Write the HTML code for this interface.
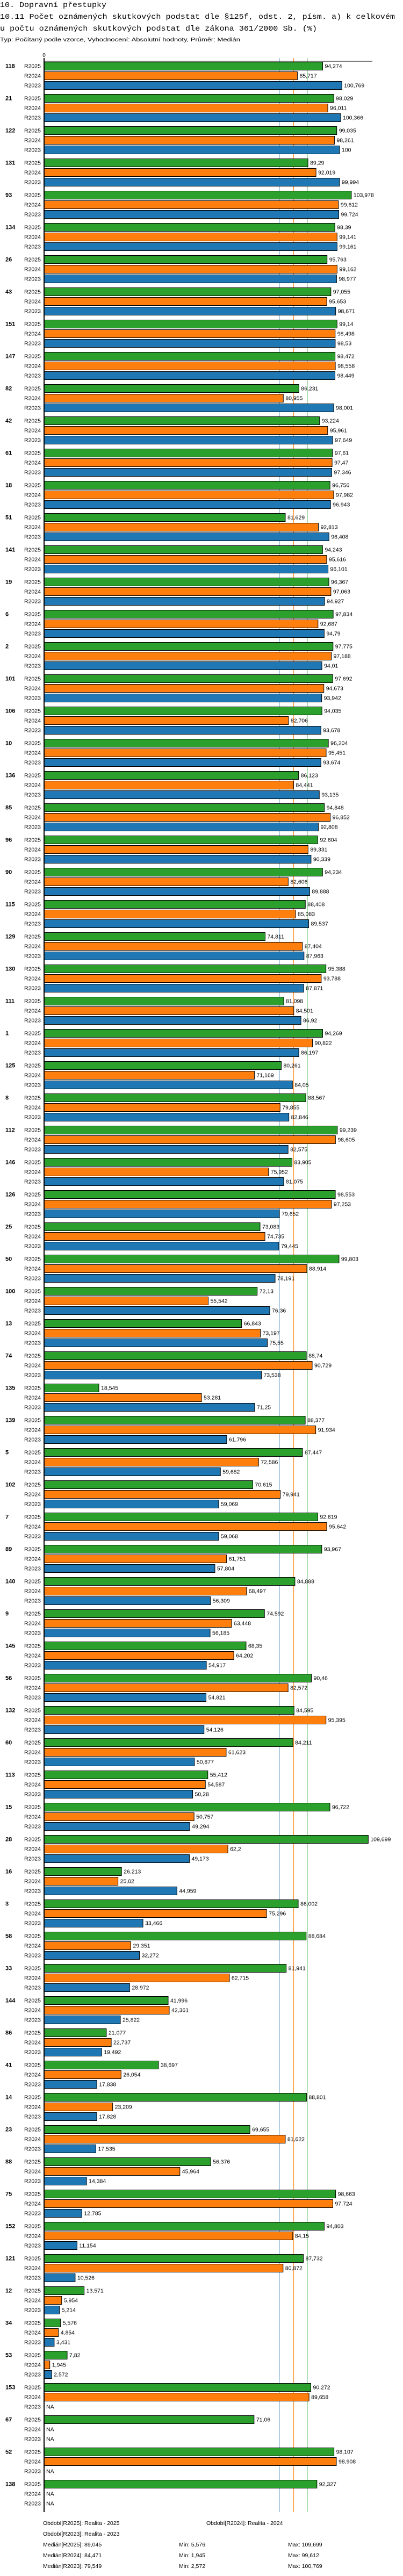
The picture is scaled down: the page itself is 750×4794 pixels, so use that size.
<!DOCTYPE html>
<html><head><meta charset="utf-8">
<style>
html,body{margin:0;padding:0;background:#fff;}
svg{display:block;}
text{font-family:"Liberation Sans",sans-serif;fill:#000;}
.mono{font-family:"Liberation Mono","DejaVu Sans Mono",monospace;}
</style></head>
<body>
<svg id="chart" xmlns="http://www.w3.org/2000/svg" width="750" height="4794" viewBox="0 0 750 4794">
<text class="mono" x="0" y="13" font-size="14" textLength="198" lengthAdjust="spacingAndGlyphs">10. Dopravní přestupky</text>
<text class="mono" x="0" y="35" font-size="14" textLength="735" lengthAdjust="spacingAndGlyphs">10.11 Počet oznámených skutkových podstat dle §125f, odst. 2, písm. a) k celkovém</text>
<text class="mono" x="0" y="57" font-size="14" textLength="590" lengthAdjust="spacingAndGlyphs">u počtu oznámených skutkových podstat dle zákona 361/2000 Sb. (%)</text>
<text x="0" y="77" font-size="10" textLength="447" lengthAdjust="spacingAndGlyphs">Typ: Počítaný podle vzorce, Vyhodnocení: Absolutní hodnoty, Průměr: Medián</text>
<g id="plot"></g>
<g font-size="10.5">
<text x="80" y="4699">Období[R2025]: Realita - 2025</text>
<text x="384" y="4699">Období[R2024]: Realita - 2024</text>
<text x="80" y="4719">Období[R2023]: Realita - 2023</text>
<text x="80" y="4739">Medián[R2025]: 89,045</text>
<text x="333" y="4739">Min: 5,576</text>
<text x="536" y="4739">Max: 109,699</text>
<text x="80" y="4759">Medián[R2024]: 84,471</text>
<text x="333" y="4759">Min: 1,945</text>
<text x="536" y="4759">Max: 99,612</text>
<text x="80" y="4779">Medián[R2023]: 79,549</text>
<text x="333" y="4779">Min: 2,572</text>
<text x="536" y="4779">Max: 100,769</text>
</g>
</svg>
<script>
const categories = ["118","21","122","131","93","134","26","43","151","147","82","42","61","18","51","141","19","6","2","101","106","10","136","85","96","90","115","129","130","111","1","125","8","112","146","126","25","50","100","13","74","135","139","5","102","7","89","140","9","145","56","132","60","113","15","28","16","3","58","33","144","86","41","14","23","88","75","152","121","12","34","53","153","67","52","138"];
const r2025 = [94.274,98.029,99.035,89.29,103.978,98.39,95.763,97.055,99.14,98.472,86.231,93.224,97.61,96.756,81.629,94.243,96.367,97.834,97.775,97.692,94.035,96.204,86.123,94.848,92.604,94.234,88.408,74.811,95.388,81.098,94.269,80.261,88.567,99.239,83.905,98.553,73.083,99.803,72.13,66.843,88.74,18.545,88.377,87.447,70.615,92.619,93.967,84.888,74.592,68.35,90.46,84.595,84.211,55.412,96.722,109.699,26.213,86.002,88.684,81.941,41.996,21.077,38.697,88.801,69.655,56.376,98.663,94.803,87.732,13.571,5.576,7.82,90.272,71.06,98.107,92.327];
const r2024 = [85.717,96.011,98.261,92.019,99.612,99.141,99.162,95.653,98.498,98.558,80.955,95.961,97.47,97.982,92.813,95.616,97.063,92.687,97.188,94.673,82.706,95.451,84.441,96.852,89.331,82.606,85.083,87.404,93.788,84.501,90.822,71.169,79.855,98.605,75.952,97.253,74.735,88.914,55.542,73.197,90.729,53.281,91.934,72.586,79.941,95.642,61.751,68.497,63.448,64.202,82.572,95.395,61.623,54.587,50.757,62.2,25.02,75.296,29.351,62.715,42.361,22.737,26.054,23.209,81.622,45.964,97.724,84.15,80.872,5.954,4.854,1.945,89.658,null,98.908,null];
const r2023 = [100.769,100.366,100,99.994,99.724,99.161,98.977,98.671,98.53,98.449,98.001,97.649,97.346,96.943,96.408,96.101,94.927,94.79,94.01,93.942,93.678,93.674,93.135,92.808,90.339,89.888,89.537,87.963,87.871,86.92,86.197,84.05,82.846,82.575,81.075,79.652,79.445,78.191,76.36,75.55,73.538,71.25,61.796,59.682,59.069,59.068,57.804,56.309,56.185,54.917,54.821,54.126,50.877,50.28,49.294,49.173,44.959,33.466,32.272,28.972,25.822,19.492,17.838,17.828,17.535,14.384,12.785,11.154,10.526,5.214,3.431,2.572,null,null,null,null];
const seriesNames = ["R2025","R2024","R2023"];
const medians = [89.045, 84.471, 79.549];

(function(){
const colors = ["#2ca02c","#ff7f0e","#1f77b4"];
const NS = "http://www.w3.org/2000/svg";
const X0 = 82, PXU = 5.5, TOPY = 115, GROUP = 60, ROW = 18, BARH = 15;
const xs = v => X0 + v * PXU;
const gy = i => TOPY + i * GROUP;
const plot = document.getElementById('plot');
function mk(tag, attrs, parent) {
  const e = document.createElementNS(NS, tag);
  for (const k in attrs) e.setAttribute(k, attrs[k]);
  (parent || plot).appendChild(e);
  return e;
}
const fmt = v => String(v).replace('.', ',');
const axisBottom = TOPY + categories.length * GROUP;

[2, 1, 0].forEach(idx => {
  const m = medians[idx];
  const l = mk('line', {x1: xs(m), x2: xs(m), y1: 108, y2: axisBottom, stroke: colors[idx], 'stroke-width': 1});
  
  
});

const all = [r2025, r2024, r2023];
categories.forEach((c, i) => {
  const g = mk('g', {});
  
  
  const gl = mk('text', {x: 10, y: gy(i) + 11.5, 'font-size': 11, 'font-weight': 'bold'}, g);
  gl.textContent = c;
  
  
  all.forEach((arr, s) => {
    const y = gy(i) + s * ROW;
    const sl = mk('text', {x: 45, y: y + 11.5, 'font-size': 10.5}, g);
    sl.textContent = seriesNames[s];
    
    
    const v = arr[i];
    if (v === null) {
      const na = mk('text', {x: X0 + 4, y: y + 11.5, 'font-size': 10.5}, g);
      na.textContent = 'NA';
      
      
      return;
    }
    const r = mk('rect', {x: X0, y: y + 0.5, width: xs(v) - X0, height: BARH, fill: colors[s], stroke: '#000', 'stroke-width': 1}, g);
    
    
    const vl = mk('text', {x: xs(v) + 4, y: y + 11.5, 'font-size': 10.5}, g);
    vl.textContent = fmt(v);
    
    
  });
});

const topLine = mk('line', {x1: X0, x2: 693, y1: 114, y2: 114, stroke: '#000', 'stroke-width': 1});


const ax = mk('line', {x1: X0, x2: X0, y1: 108, y2: axisBottom, stroke: '#000', 'stroke-width': 2});


const z = mk('text', {x: X0, y: 106, 'font-size': 10, 'text-anchor': 'middle'});
z.textContent = '0';


})();
</script>
</body></html>
